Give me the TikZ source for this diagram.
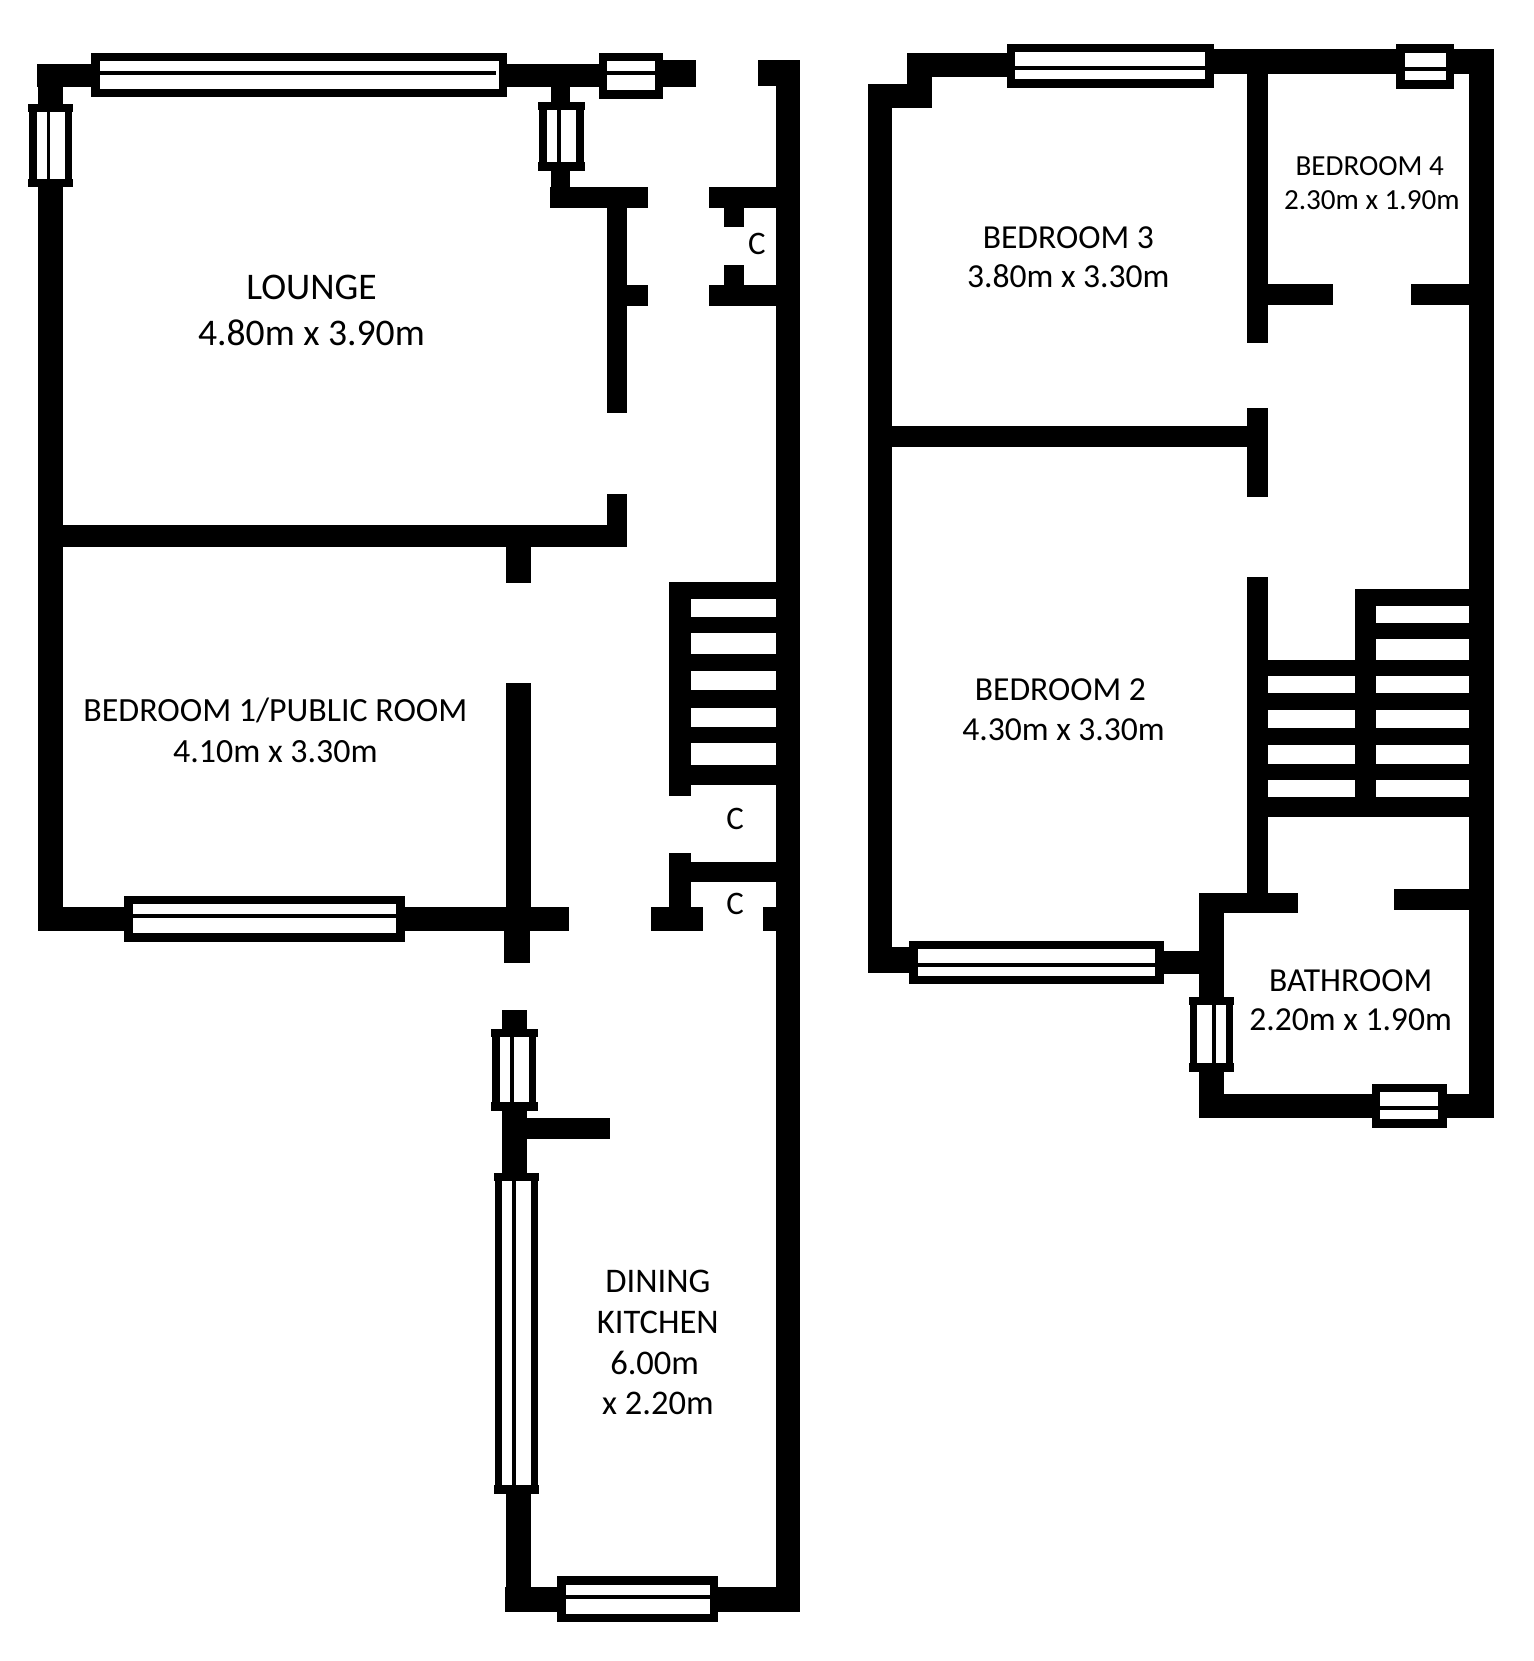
\documentclass[tikz,border=0pt]{standalone}
\usepackage{fontspec}
\setmainfont{Carlito}
\usetikzlibrary{shapes.geometric, arrows}
\tikzstyle{wall} = [fill=black]
\tikzstyle{pane} = [fill=white]
\tikzstyle{bigroom} = [align=center, inner sep=0pt, font=\fontsize{35.5}{43}\selectfont]
\tikzstyle{room} = [align=center, inner sep=0pt, font=\fontsize{31.7}{37}\selectfont]
\tikzstyle{wideroom} = [align=center, inner sep=0pt, font=\fontsize{32}{39}\selectfont]
\tikzstyle{smallroom} = [align=center, inner sep=0pt, font=\fontsize{27.5}{32}\selectfont]
\tikzstyle{kitchen} = [align=center, inner sep=0pt, font=\fontsize{32.6}{38.3}\selectfont]
\tikzstyle{cupboard} = [inner sep=0pt, font=\fontsize{31}{37}\selectfont]
% x1, y1, x2, y2, top of the middle bar
\newcommand{\hwindow}[5]{
        \fill [pane] (#1,#2) rectangle (#3,#4);
        \fill [wall] (#1,#2) rectangle ++(8,#4-#2);
        \fill [wall] (#3,#2) rectangle ++(-8,#4-#2);
        \fill [wall] (#1+1.5,#2) rectangle (#3-1.5,#2+8);
        \fill [wall] (#1+1.5,#4) rectangle (#3-1.5,#4-8);
        \fill [wall] (#1,#5) rectangle (#3,#5+3.6);
}
% x1, y1, x2, y2, left of the middle bar
\newcommand{\vwindow}[5]{
        \fill [pane] (#1,#2) rectangle (#3,#4);
        \fill [wall] (#1,#2) rectangle (#3,#2+8);
        \fill [wall] (#1,#4) rectangle (#3,#4-8);
        \fill [wall] (#1+1,#2) rectangle (#1+8,#4);
        \fill [wall] (#3-1,#2) rectangle (#3-8,#4);
        \fill [wall] (#5,#2) rectangle (#5+3.6,#4);
}
\begin{document}
\begin{tikzpicture}[x=1pt,y=-1pt]
        \useasboundingbox (0,0) rectangle (1447.2,1568);

        % ground floor, outer walls
        \fill [wall] (35,60) rectangle (657,82);
        \fill [wall] (626,57) rectangle (657,81);
        \fill [wall] (36,82) rectangle (59,879);
        \fill [wall] (36,856) rectangle (537,879);
        \fill [wall] (733,57) rectangle (755,1517);
        \fill [wall] (716,57) rectangle (733,81);
        \fill [wall] (476.5,1498) rectangle (755,1521.5);

        % lounge
        \fill [wall] (520,82) rectangle (538,178);
        \fill [wall] (519,177) rectangle (612,196);
        \fill [wall] (573,196) rectangle (592,390);
        \fill [wall] (592,269) rectangle (612,289);
        \fill [wall] (59,496) rectangle (592,516);
        \fill [wall] (573,466) rectangle (592,516);

        % cupboard
        \fill [wall] (669,177) rectangle (733,196);
        \fill [wall] (669,269) rectangle (733,289);
        \fill [wall] (683,196) rectangle (702,214);
        \fill [wall] (683,250) rectangle (702,269);

        % bedroom 1
        \fill [wall] (477.5,516) rectangle (501,550.5);
        \fill [wall] (477.5,645) rectangle (501,856);
        \fill [wall] (475.5,879) rectangle (500,909);

        % stairs
        \fill [wall] (632,549) rectangle (652,751);
        \fill [wall] (652,549) rectangle (733,565);
        \fill [wall] (652,582) rectangle (733,597.6);
        \fill [wall] (652,617) rectangle (733,633);
        \fill [wall] (652,651.6) rectangle (733,668);
        \fill [wall] (652,686) rectangle (733,701.6);
        \fill [wall] (652,722) rectangle (733,741);

        % cupboards under the stairs
        \fill [wall] (632,805) rectangle (652,856);
        \fill [wall] (652,814) rectangle (733,833);
        \fill [wall] (615,856) rectangle (664,879);
        \fill [wall] (720,856) rectangle (733,879);

        % dining kitchen
        \fill [wall] (473.7,953) rectangle (497.3,971);
        \fill [wall] (473.7,1048) rectangle (497.3,1108);
        \fill [wall] (497,1055) rectangle (576,1075);
        \fill [wall] (477.5,1410) rectangle (501,1498);

        % ground floor, windows
        \hwindow{86}{50}{479}{92}{67}
        \fill [pane] (468,67) rectangle (471,71);
        \hwindow{565}{50}{626}{93}{67}
        \hwindow{117.5}{845.5}{382}{889}{863}
        \hwindow{526}{1488}{678}{1531.4}{1505.6}
        \vwindow{26.5}{98}{69}{177}{44}
        \vwindow{508}{96}{552}{161}{526}
        \vwindow{463.6}{971}{507.4}{1048.4}{481.6}
        \vwindow{466}{1107}{509}{1410}{483.5}

        % first floor, outer walls
        \fill [wall] (1146,46.5) rectangle (1410,70);
        \fill [wall] (856,50) rectangle (950.6,73);
        \fill [wall] (856,50) rectangle (879.5,101.5);
        \fill [wall] (819,79) rectangle (879.5,101.5);
        \fill [wall] (819,79) rectangle (842.5,918.3);
        \fill [wall] (819,894.4) rectangle (858.5,918.3);
        \fill [wall] (1387,46.5) rectangle (1410,1055.5);

        % bedrooms
        \fill [wall] (1177.4,70) rectangle (1197,323.4);
        \fill [wall] (1197,268.4) rectangle (1258,288);
        \fill [wall] (1332.4,268.4) rectangle (1387,288);
        \fill [wall] (842,402.6) rectangle (1177.4,422);
        \fill [wall] (1177.4,384.8) rectangle (1197,469.4);
        \fill [wall] (1177.4,544.3) rectangle (1197,843);

        % stairs
        \fill [wall] (1279.4,556.3) rectangle (1299,771.6);
        \fill [wall] (1299,556.3) rectangle (1387,572);
        \fill [wall] (1299,587.7) rectangle (1387,603);
        \fill [wall] (1197,622.7) rectangle (1387,638.3);
        \fill [wall] (1197,654.5) rectangle (1387,670);
        \fill [wall] (1197,687.4) rectangle (1387,703);
        \fill [wall] (1197,721) rectangle (1387,736.6);
        \fill [wall] (1197,752) rectangle (1387,771.6);

        % bathroom
        \fill [wall] (1098.5,897.3) rectangle (1131.4,919.7);
        \fill [wall] (1131.4,843) rectangle (1225,862.3);
        \fill [wall] (1315.5,839.5) rectangle (1387,859.4);
        \fill [wall] (1131.4,843) rectangle (1155.7,1055.6);
        \fill [wall] (1131.4,1032.5) rectangle (1387,1055.6);

        % first floor, windows
        \hwindow{950.6}{41.5}{1145.8}{83}{62.7}
        \hwindow{1318}{42}{1373}{83.6}{63.4}
        \hwindow{858.5}{888}{1098.5}{929}{909}
        \hwindow{1295}{1023}{1365.7}{1064.6}{1044.4}
        \vwindow{1122.4}{940.7}{1165}{1011.5}{1144.5}

        \node (Lounge) [bigroom] at (294,293) {LOUNGE\\4.80m x 3.90m};
        \node (Bedroom1) [wideroom] at (260,689.5) {BEDROOM 1/PUBLIC ROOM\\4.10m x 3.30m};
        \node (Kitchen) [kitchen] at (621,1267.5) {DINING\\KITCHEN\\\hspace{-6pt}6.00m\\x 2.20m};
        \node (Bedroom2) [room] at (1001,670) {BEDROOM 2\\\hspace{6pt}4.30m x 3.30m};
        \node (Bedroom3) [room] at (1008.5,243) {BEDROOM 3\\3.80m x 3.30m};
        \node (Bedroom4) [smallroom] at (1293,173) {BEDROOM 4\\\hspace{4pt}2.30m x 1.90m};
        \node (Bathroom) [room] at (1275,944) {BATHROOM\\2.20m x 1.90m};
        \node (CupboardA) [cupboard] at (714.5,230.5) {C};
        \node (CupboardB) [cupboard] at (694,773.5) {C};
        \node (CupboardC) [cupboard] at (694,853.5) {C};
\end{tikzpicture}
\end{document}
